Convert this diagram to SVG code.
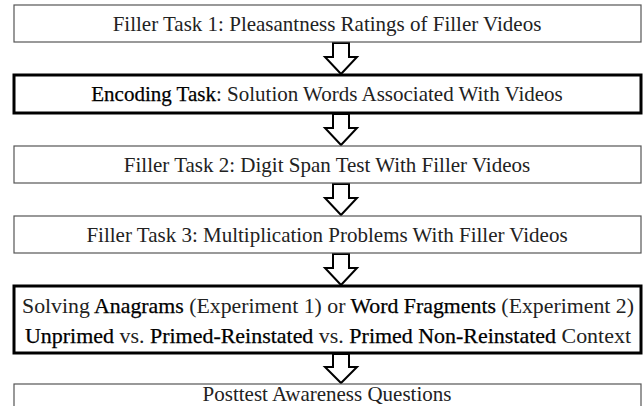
<svg xmlns="http://www.w3.org/2000/svg" width="643" height="406" viewBox="0 0 643 406">
  <style>
    .box { fill: #ffffff; stroke: #555555; stroke-width: 1.2; }
    .box-key { fill: #ffffff; stroke: #000000; stroke-width: 3; }
    .label { font-family: "Liberation Serif", "Times New Roman", serif; font-size: 21px; fill: #222222; text-anchor: middle; }
    .em { fill: #000000; stroke: #000000; stroke-width: 0.25; }
    .arrow { fill: #ffffff; stroke: #000000; stroke-width: 2; stroke-linejoin: miter; }
  </style>
  <defs>
    <!-- hollow block arrow pointing down, origin at the top centre of the shaft -->
    <path id="down" class="arrow" d="M -8 0 L 8 0 L 8 14 L 16 14 L 0 31 L -16 14 L -8 14 Z"/>
    <path id="down-short" class="arrow" d="M -8 0 L 8 0 L 8 13 L 16 13 L 0 29 L -16 13 L -8 13 Z"/>
  </defs>

  <g id="connectors">
    <use href="#down" x="341" y="43"/>
    <use href="#down" x="341" y="114"/>
    <use href="#down" x="341" y="184"/>
    <use href="#down" x="341" y="254"/>
    <use href="#down-short" x="341" y="354"/>
  </g>

  <g id="filler1">
    <rect class="box" x="14" y="5" width="627" height="37"/>
    <text class="label" x="327" y="31">Filler Task 1: Pleasantness Ratings of Filler Videos</text>
  </g>

  <g id="encoding">
    <rect class="box-key" x="14" y="75" width="627" height="38"/>
    <text class="label" x="327" y="101"><tspan class="em">Encoding Task</tspan>: Solution Words Associated With Videos</text>
  </g>

  <g id="filler2">
    <rect class="box" x="14" y="146" width="627" height="37"/>
    <text class="label" x="327" y="172">Filler Task 2: Digit Span Test With Filler Videos</text>
  </g>

  <g id="filler3">
    <rect class="box" x="14" y="216" width="627" height="37"/>
    <text class="label" x="327" y="242">Filler Task 3: Multiplication Problems With Filler Videos</text>
  </g>

  <g id="test">
    <rect class="box-key" x="14" y="286" width="627" height="67"/>
    <text class="label" x="328" y="313" textLength="612" lengthAdjust="spacingAndGlyphs">Solving <tspan class="em">Anagrams</tspan> (Experiment 1) or <tspan class="em">Word Fragments</tspan> (Experiment 2)</text>
    <text class="label" x="328" y="343" textLength="606" lengthAdjust="spacingAndGlyphs"><tspan class="em">Unprimed</tspan> vs. <tspan class="em">Primed-Reinstated</tspan> vs. <tspan class="em">Primed Non-Reinstated</tspan> Context</text>
  </g>

  <g id="posttest">
    <rect class="box" x="14" y="384" width="627" height="34"/>
    <text class="label" x="327" y="401">Posttest Awareness Questions</text>
  </g>
</svg>
